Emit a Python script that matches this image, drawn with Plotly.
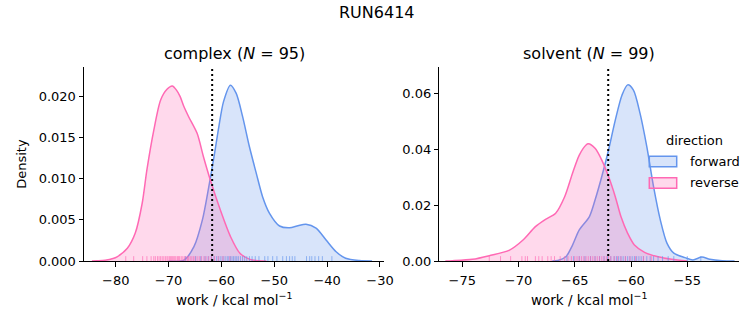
import plotly.graph_objects as go

# ---------------- data ----------------
panels = ["complex", "solvent"]
n_counts = [95, 99]
directions = ["forward", "reverse"]

# KDE curves (x = work / kcal mol-1, y = density)
complex_forward_x = [-70.0, -67.1, -65.2, -63.6, -62.4, -61.4, -60.5, -59.6, -58.3, -57.2, -56.0, -54.7,
                     -53.4, -52.2, -50.9, -49.0, -47.1, -45.5, -44.0, -42.1, -40.2, -38.3, -36.5, -33.9, -31.5]
complex_forward_y = [0.0, 0.0001, 0.00174, 0.0050, 0.0090, 0.0127, 0.0163, 0.0194, 0.0214, 0.0204, 0.0176, 0.0139,
                     0.01067, 0.0078, 0.0058, 0.00426, 0.00405, 0.0043, 0.00447, 0.0040, 0.00256, 0.00113, 0.00033, 0.00005, 0.0]
complex_reverse_x = [-84.5, -83.6, -82.0, -80.5, -79.75, -77.8, -76.3, -75.0, -74.1, -72.8, -71.5, -70.3, -69.3,
                     -68.5, -67.8, -67.1, -66.2, -64.6, -63.4, -62.1, -60.2, -58.3, -56.5, -54.6, -53.0, -51.5]
complex_reverse_y = [0.0, 0.00003, 0.0001, 0.0003, 0.0005, 0.00155, 0.0034, 0.0070, 0.0111, 0.0159, 0.0196, 0.0209, 0.0213,
                     0.0208, 0.0200, 0.0188, 0.01756, 0.01554, 0.01269, 0.00986, 0.0062, 0.0030, 0.00094, 0.0002, 0.00003, 0.0]

solvent_forward_x = [-67.0, -66.5, -65.8, -65.2, -64.6, -63.7, -63.2, -62.6, -62.0, -61.4, -60.8, -60.3, -59.8,
                     -59.2, -58.6, -58.0, -57.4, -56.8, -56.2, -55.2, -54.5, -53.7, -53.0, -51.9, -50.8]
solvent_forward_y = [0.0, 0.0002, 0.0015, 0.0057, 0.0111, 0.0159, 0.0218, 0.0302, 0.0397, 0.0504, 0.0594, 0.0630, 0.0612,
                     0.0528, 0.0409, 0.0266, 0.0147, 0.0063, 0.0028, 0.0012, 0.0004, 0.0014, 0.0006, 0.0001, 0.0]
solvent_reverse_x = [-76.5, -75.9, -74.1, -72.6, -70.8, -69.6, -68.5, -67.6, -66.7, -65.9, -65.2, -64.6, -64.0,
                     -63.8, -63.2, -62.6, -62.0, -61.4, -60.9, -60.3, -59.7, -58.8, -57.6, -56.4, -55.0]
solvent_reverse_y = [0.0, 0.0001, 0.0006, 0.0019, 0.0039, 0.0075, 0.0123, 0.0149, 0.0171, 0.0230, 0.0314, 0.0379, 0.0415,
                     0.0419, 0.0403, 0.0361, 0.0302, 0.0230, 0.0159, 0.0099, 0.0057, 0.0031, 0.0015, 0.0006, 0.0]

# individual work values (rug ticks)
complex_forward_work = [-66.8, -64.9, -63.9, -63.1, -62.5, -61.9, -61.4, -60.9, -60.5, -60.1, -59.7, -59.3, -58.9,
                        -58.6, -58.3, -58.0, -57.7, -57.4, -57.1, -56.8, -56.4, -56.0, -55.6, -55.2, -54.7, -54.2,
                        -53.6, -52.9, -51.8, -51.2, -50.3, -49.5, -48.4, -47.7, -47.1, -46.6, -46.1, -43.9, -43.3,
                        -42.9, -42.3, -41.6, -40.9, -39.1]
complex_reverse_work = [-78.1, -76.6, -74.9, -74.1, -73.3, -72.8, -72.5, -72.1, -71.8, -71.5, -71.2, -70.9, -70.6,
                        -70.3, -70.1, -69.8, -69.6, -69.4, -69.2, -69.0, -68.8, -68.6, -68.3, -68.1, -67.9, -67.6,
                        -67.3, -67.0, -66.7, -66.4, -66.2, -65.9, -65.6, -65.3, -65.0, -64.6, -64.2, -63.8, -63.3,
                        -62.9, -62.4, -61.9, -61.3, -60.6, -59.7, -58.4]
solvent_forward_work = [-65.7, -65.1, -64.6, -64.1, -63.6, -63.2, -62.8, -62.4, -62.1, -61.8, -61.5, -61.3, -61.1,
                        -60.9, -60.7, -60.5, -60.3, -60.1, -59.9, -59.7, -59.5, -59.3, -59.1, -58.9, -58.6, -58.3,
                        -58.0, -57.6, -57.2, -56.7, -56.2, -55.0, -53.8]
solvent_reverse_work = [-72.6, -71.6, -70.7, -69.7, -69.4, -69.2, -68.5, -68.2, -67.9, -67.4, -67.1, -66.8, -66.3,
                        -65.9, -65.6, -65.3, -65.0, -64.8, -64.6, -64.4, -64.2, -64.0, -63.8, -63.6, -63.4, -63.2,
                        -63.0, -62.8, -62.6, -62.4, -62.2, -62.0, -61.8, -61.5, -61.2, -60.9, -60.5, -60.1, -59.6,
                        -58.9, -58.2]

# vertical dotted reference lines
dotted_x = [-61.75, -62.03]

# axis ticks and ranges
complex_xticks = [-80, -70, -60, -50, -40, -30]
complex_yticks = [0.000, 0.005, 0.010, 0.015, 0.020]
solvent_xticks = [-75, -70, -65, -60, -55]
solvent_yticks = [0.00, 0.02, 0.04, 0.06]
x_ranges = [[-86.0, -29.24], [-77.04, -50.38]]
y_ranges = [[0, 0.02365], [0, 0.0695]]

# ---------------- styling ----------------
W, H = 753, 325
FONT = "DejaVu Sans"
line_colors = {"forward": "rgb(100,149,237)", "reverse": "rgb(255,105,180)"}
fill_colors = {"forward": "rgba(100,149,237,0.25)", "reverse": "rgba(255,105,180,0.25)"}
rug_colors = {"forward": "rgba(100,149,237,0.65)", "reverse": "rgba(255,105,180,0.65)"}
RUG_FRAC = 0.025

x_domains = [[84 / W, 384 / W], [439.3 / W, 739.3 / W]]
y_domain = [1 - 261 / H, 1 - 66.7 / H]

curves = {
    ("complex", "forward"): (complex_forward_x, complex_forward_y, complex_forward_work),
    ("complex", "reverse"): (complex_reverse_x, complex_reverse_y, complex_reverse_work),
    ("solvent", "forward"): (solvent_forward_x, solvent_forward_y, solvent_forward_work),
    ("solvent", "reverse"): (solvent_reverse_x, solvent_reverse_y, solvent_reverse_work),
}
xticks = [complex_xticks, solvent_xticks]
yticks = [complex_yticks, solvent_yticks]
yfmt = ["{:.3f}", "{:.2f}"]


def minus(s):
    return s.replace("-", "\u2212")


fig = go.Figure()

for i, panel in enumerate(panels):
    xa = "x" if i == 0 else "x2"
    ya = "y" if i == 0 else "y2"
    for d in directions:
        cx, cy, work = curves[(panel, d)]
        fig.add_trace(go.Scatter(
            x=cx, y=cy, xaxis=xa, yaxis=ya, mode="lines",
            line=dict(color=line_colors[d], width=1.5, shape="spline", smoothing=0.8),
            fill="tozeroy", fillcolor=fill_colors[d], showlegend=False, hoverinfo="skip"))
    for d in directions:
        _, _, work = curves[(panel, d)]
        h = RUG_FRAC * y_ranges[i][1]
        rx, ry = [], []
        for v in work:
            rx += [v, v, None]
            ry += [0, h, None]
        fig.add_trace(go.Scatter(
            x=rx, y=ry, xaxis=xa, yaxis=ya, mode="lines",
            line=dict(color=rug_colors[d], width=1), showlegend=False, hoverinfo="skip"))
    fig.add_shape(type="line", xref=xa, yref=f"{ya} domain", x0=dotted_x[i], x1=dotted_x[i],
                  y0=0, y1=1, line=dict(color="black", width=2, dash="2px,3px"), layer="above")

axis_common = dict(showline=True, linecolor="black", linewidth=1, ticks="outside", ticklen=4.5,
                   tickwidth=1, tickcolor="black", showgrid=False, zeroline=False, mirror=False,
                   automargin=False, tickfont=dict(family=FONT, size=13, color="black"))

fig.update_layout(
    xaxis=dict(domain=x_domains[0], range=x_ranges[0], anchor="y", ticklabelstandoff=3,
               tickvals=xticks[0], ticktext=[minus(str(t)) for t in xticks[0]], **axis_common),
    yaxis=dict(domain=y_domain, range=y_ranges[0], anchor="x",
               tickvals=yticks[0], ticktext=[yfmt[0].format(t) for t in yticks[0]], **axis_common),
    xaxis2=dict(domain=x_domains[1], range=x_ranges[1], anchor="y2", ticklabelstandoff=3,
                tickvals=xticks[1], ticktext=[minus(str(t)) for t in xticks[1]], **axis_common),
    yaxis2=dict(domain=y_domain, range=y_ranges[1], anchor="x2",
                tickvals=yticks[1], ticktext=[yfmt[1].format(t) for t in yticks[1]], **axis_common),
)

ann = []
ann.append(dict(text="RUN6414", x=0.5, y=1 - 12.5 / H, xref="paper", yref="paper",
                xanchor="center", yanchor="middle", showarrow=False,
                font=dict(family=FONT, size=16, color="black")))
for i, panel in enumerate(panels):
    cx = (x_domains[i][0] + x_domains[i][1]) / 2
    ann.append(dict(text=f"{panel} (<i>N</i> = {n_counts[i]})", x=cx, y=1 - 54 / H,
                    xref="paper", yref="paper", xanchor="center", yanchor="middle", showarrow=False,
                    font=dict(family=FONT, size=16, color="black")))
    ann.append(dict(text="work / kcal mol<sup>\u22121</sup>", x=cx, y=1 - 299 / H,
                    xref="paper", yref="paper", xanchor="center", yanchor="middle", showarrow=False,
                    font=dict(family=FONT, size=13.5, color="black")))
ann.append(dict(text="Density", x=22 / W, y=(y_domain[0] + y_domain[1]) / 2, xref="paper", yref="paper",
                xanchor="center", yanchor="middle", textangle=-90, showarrow=False,
                font=dict(family=FONT, size=13, color="black")))

# legend (drawn manually to match matplotlib layout)
ann.append(dict(text="direction", x=694.7 / W, y=1 - 141 / H, xref="paper", yref="paper",
                xanchor="center", yanchor="middle", showarrow=False,
                font=dict(family=FONT, size=13, color="black")))
leg_rows = [161.5, 183.0]
for d, yc in zip(directions, leg_rows):
    fig.add_shape(type="rect", xref="paper", yref="paper",
                  x0=649.3 / W, x1=676.7 / W, y0=1 - (yc + 5.3) / H, y1=1 - (yc - 5.3) / H,
                  line=dict(color=line_colors[d], width=1.5), fillcolor=fill_colors[d])
    ann.append(dict(text=d, x=688.3 / W, y=1 - yc / H, xref="paper", yref="paper",
                    xanchor="left", yanchor="middle", showarrow=False,
                    font=dict(family=FONT, size=13, color="black")))

fig.update_layout(
    annotations=ann, width=W, height=H, margin=dict(l=0, r=0, t=0, b=0),
    paper_bgcolor="white", plot_bgcolor="white", showlegend=False,
    font=dict(family=FONT, color="black"),
)

fig.write_html("out.html")
